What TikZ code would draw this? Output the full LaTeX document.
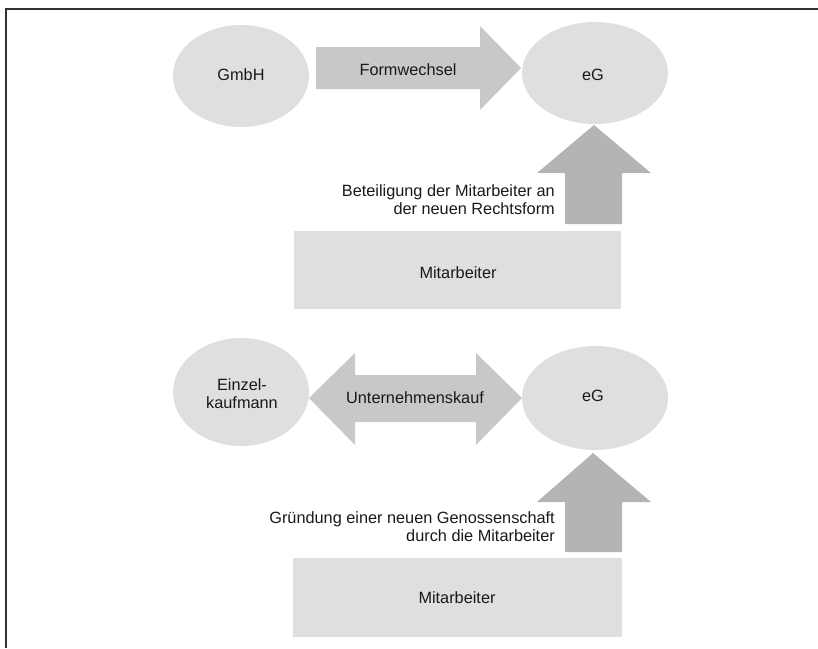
\documentclass[tikz,border=0pt]{standalone}
\usepackage{fontspec}
\setmainfont{Liberation Sans}
\begin{document}
\begin{tikzpicture}[x=1pt,y=-1pt,
  font=\fontsize{16.3}{18}\selectfont,
  basebox/.style={fill=formgray,draw=none},
  sidearrow/.style={fill=arrowgray,draw=none},
  uparrow/.style={fill=upgray,draw=none},
  label/.style={inner sep=0pt,anchor=center,text=textgray}]
\definecolor{formgray}{RGB}{223,223,223}
\definecolor{arrowgray}{RGB}{200,200,200}
\definecolor{upgray}{RGB}{180,180,180}
\definecolor{framegray}{RGB}{45,50,55}
\definecolor{textgray}{RGB}{25,25,25}
\useasboundingbox (0,0) rectangle (818,648);
% open frame: top and left edge
\draw[framegray,line width=2pt] (6,648) -- (6,9) -- (818,9);

% ---- upper part: Formwechsel ----
\fill[formgray] (241,76) ellipse [x radius=68,y radius=51];
\fill[formgray] (595,73) ellipse [x radius=73,y radius=51];
\node[label] (gmbh) at (241,75) {GmbH};
\node[label] (eg1) at (593,75) {eG};
\fill[sidearrow] (316,47) -- (480,47) -- (480,26) -- (521,68) -- (480,110) -- (480,89) -- (316,89) -- cycle;
\node[label] (fw) at (408,70) {Formwechsel};
\fill[uparrow] (565,224) -- (565,173) -- (537,173) -- (594,125) -- (651,173) -- (622,173) -- (622,224) -- cycle;
\node[label,anchor=east,align=right] (beteil) at (555,200) {Beteiligung der Mitarbeiter an\\der neuen Rechtsform};
\fill[basebox] (294,231) rectangle (621,309);
\node[label] (ma1) at (458,273) {Mitarbeiter};

% ---- lower part: Unternehmenskauf ----
\fill[formgray] (241,392) ellipse [x radius=68,y radius=54];
\fill[formgray] (595,398) ellipse [x radius=73,y radius=52];
\node[label,align=center] (ek) at (242,394) {Einzel-\\kaufmann};
\node[label] (eg2) at (593,396) {eG};
\fill[sidearrow] (309,398) -- (355,353) -- (355,375) -- (476,375) -- (476,353) -- (522,398) -- (476,445) -- (476,422) -- (355,422) -- (355,445) -- cycle;
\node[label] (uk) at (415,398) {Unternehmenskauf};
\fill[uparrow] (565,552) -- (565,502) -- (537,502) -- (593,453) -- (651,502) -- (622,502) -- (622,552) -- cycle;
\node[label,anchor=east,align=right] (gruend) at (555,527) {Gründung einer neuen Genossenschaft\\durch die Mitarbeiter};
\fill[basebox] (293,558) rectangle (622,637);
\node[label] (ma2) at (457,598) {Mitarbeiter};
\end{tikzpicture}
\end{document}
